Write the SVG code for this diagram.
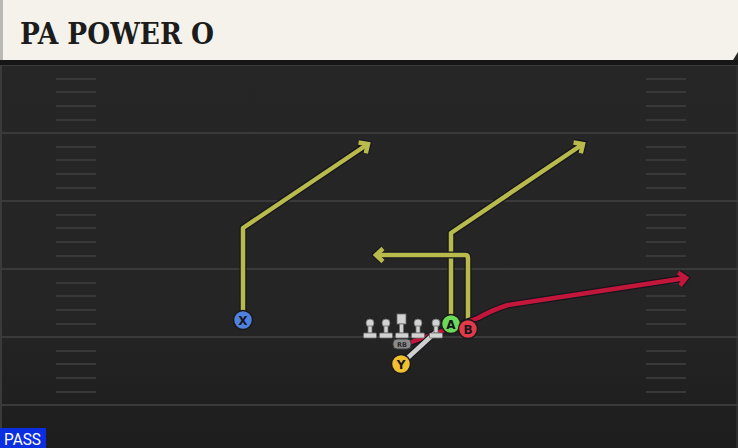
<svg xmlns="http://www.w3.org/2000/svg" width="738" height="448" viewBox="0 0 738 448">
<defs>
<style>
.yl{stroke:#3a3a3a;stroke-width:2;fill:none}
.hs{stroke:#383838;stroke-width:2;fill:none}
.out{stroke:#16161e;stroke-width:7;fill:none;stroke-linejoin:round}
.yel{stroke:#b9ba4c;stroke-width:4.5;fill:none;stroke-linejoin:round}
.red{stroke:#c2163a;stroke-width:4.5;fill:none;stroke-linejoin:round}
.gry{stroke:#cfcfcf;stroke-width:4.5;fill:none}
.pc{stroke:#1a1a1a;stroke-width:1.5}
.pl{font-family:"DejaVu Sans",sans-serif;font-weight:bold;font-size:12px;fill:#16161e;text-anchor:middle}
.lm{fill:#d2d2d2;stroke:#6a6a6a;stroke-width:0.8}
</style>
<linearGradient id="fg" x1="0" y1="0" x2="0" y2="1">
<stop offset="0" stop-color="#262626"/>
<stop offset="0.7" stop-color="#252525"/>
<stop offset="1" stop-color="#1d1d1d"/>
</linearGradient>
<marker id="ao" markerUnits="userSpaceOnUse" markerWidth="30" markerHeight="30" refX="0" refY="0" viewBox="-15 -15 30 30" orient="auto" overflow="visible">
<path d="M-7,-6.5 L0,0 L-7,6.5" fill="none" stroke="#16161e" stroke-width="7" stroke-linejoin="miter"/>
</marker>
<marker id="ay" markerUnits="userSpaceOnUse" markerWidth="30" markerHeight="30" refX="0" refY="0" viewBox="-15 -15 30 30" orient="auto" overflow="visible">
<path d="M-7,-6.5 L0,0 L-7,6.5" fill="none" stroke="#b9ba4c" stroke-width="4.5" stroke-linejoin="miter"/>
</marker>
<marker id="ar" markerUnits="userSpaceOnUse" markerWidth="30" markerHeight="30" refX="0" refY="0" viewBox="-15 -15 30 30" orient="auto" overflow="visible">
<path d="M-7,-6.5 L0,0 L-7,6.5" fill="none" stroke="#c2163a" stroke-width="4.5" stroke-linejoin="miter"/>
</marker>
<g id="lineman">
<circle cx="0" cy="-10" r="4"/>
<rect x="-2" y="-7" width="4" height="7"/>
<rect x="-6.5" y="0" width="13" height="5" rx="1"/>
</g>
</defs>

<rect width="738" height="448" fill="url(#fg)"/>
<rect x="0" y="60" width="2" height="388" fill="#3a3a3a"/>
<rect x="736" y="60" width="2" height="388" fill="#2e2e2e"/>

<g id="field">
<line class="yl" x1="0" y1="65" x2="738" y2="65"/>
<line class="yl" x1="0" y1="133" x2="738" y2="133"/>
<line class="yl" x1="0" y1="201" x2="738" y2="201"/>
<line class="yl" x1="0" y1="269" x2="738" y2="269"/>
<line class="yl" x1="0" y1="337" x2="738" y2="337"/>
<line class="yl" x1="0" y1="405" x2="738" y2="405"/>
<path class="hs" d="M56,79H96M56,92H96M56,106H96M56,120H96M56,147H96M56,160H96M56,174H96M56,188H96M56,215H96M56,228H96M56,242H96M56,256H96M56,283H96M56,296H96M56,310H96M56,324H96M56,351H96M56,364H96M56,378H96M56,392H96"/>
<path class="hs" d="M646,79H686M646,92H686M646,106H686M646,120H686M646,147H686M646,160H686M646,174H686M646,188H686M646,215H686M646,228H686M646,242H686M646,256H686M646,283H686M646,296H686M646,310H686M646,324H686M646,351H686M646,364H686M646,378H686M646,392H686"/>
</g>

<g id="title">
<rect x="0" y="60" width="738" height="5" fill="#161616"/>
<path d="M0,0 H738 V52 L733,60 H0 Z" fill="#f5f2eb"/>
<rect x="0" y="0" width="3" height="60" fill="#b8b8b4"/>
<text x="20" y="44" font-family="'DejaVu Serif Condensed','DejaVu Serif',serif" font-weight="bold" font-size="29" fill="#1c1c1c" textLength="194" lengthAdjust="spacingAndGlyphs">PA POWER O</text>
</g>

<g id="connectors">
<path class="out" d="M243,311 V228 L368,144" marker-end="url(#ao)"/>
<path class="yel" d="M243,311 V228 L368,144" marker-end="url(#ay)"/>
<path class="out" d="M451,316 V233 L583,144" marker-end="url(#ao)"/>
<path class="yel" d="M451,316 V233 L583,144" marker-end="url(#ay)"/>
<path class="out" d="M468,322 V258 Q468,255 465,255 H376" marker-end="url(#ao)"/>
<path class="yel" d="M468,322 V258 Q468,255 465,255 H376" marker-end="url(#ay)"/>
<path class="out" d="M406,344 L478,318 Q492,310 508,305 L686,278" marker-end="url(#ao)"/>
<path class="red" d="M406,344 L478,318 Q492,310 508,305 L686,278" marker-end="url(#ar)"/>
<path class="out" d="M401,364 L437,331"/>
<path class="gry" d="M401,364 L437,331"/>
</g>

<g id="line">
<use href="#lineman" class="lm" x="370" y="333"/>
<use href="#lineman" class="lm" x="386" y="333"/>
<g class="lm">
<rect x="397" y="314" width="9" height="10"/>
<rect x="399.5" y="324" width="4" height="9"/>
<rect x="395.5" y="333" width="13" height="5" rx="1"/>
</g>
<use href="#lineman" class="lm" x="418" y="333"/>
<use href="#lineman" class="lm" x="436" y="333"/>
</g>

<g id="rb">
<rect x="393" y="339" width="18" height="10" rx="4" fill="#8a8a8a" stroke="#3a3a3a" stroke-width="1"/>
<text x="402" y="347" font-family="DejaVu Sans" font-weight="bold" font-size="6.5" fill="#2a2a2a" text-anchor="middle">RB</text>
</g>

<g id="X"><circle class="pc" cx="243" cy="320" r="9.5" fill="#4f82e0"/><text class="pl" x="243" y="324.5">X</text></g>
<g id="A"><circle class="pc" cx="451" cy="324" r="9.5" fill="#6cd95a"/><text class="pl" x="451" y="328.5">A</text></g>
<g id="B"><circle class="pc" cx="468" cy="329" r="9.5" fill="#e23a48"/><text class="pl" x="468" y="333.5">B</text></g>
<g id="Y"><circle class="pc" cx="401" cy="364" r="9.5" fill="#f0c030"/><text class="pl" x="401" y="368.5">Y</text></g>

<g id="pass">
<rect x="0" y="428" width="46" height="20" fill="#0b2ee0"/>
<text x="4" y="445" font-family="Roboto" font-size="16" fill="#ffffff" textLength="37" lengthAdjust="spacingAndGlyphs">PASS</text>
</g>
</svg>
